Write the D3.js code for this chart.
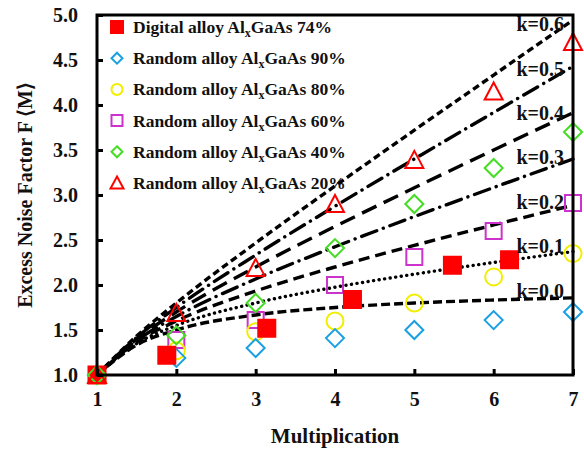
<!DOCTYPE html>
<html>
<head>
<meta charset="utf-8">
<script src="https://cdn.jsdelivr.net/npm/d3@7"></script>
<style>
body { margin:0; background:#fff; }
</style>
</head>
<body>
<svg width="584" height="452"></svg>
<script>
// data
const xTicks = [1, 2, 3, 4, 5, 6, 7];
const yTicks = [1.0, 1.5, 2.0, 2.5, 3.0, 3.5, 4.0, 4.5, 5.0];

// theory curves F(M), sampled at these M values
const curveM = [1, 1.5, 2, 3, 4, 5, 6, 7];
const kLabels = ['k=0.0', 'k=0.1', 'k=0.2', 'k=0.3', 'k=0.4', 'k=0.5', 'k=0.6'];
const k00 = [1, 1.333, 1.5, 1.667, 1.75, 1.8, 1.833, 1.857];
const k01 = [1, 1.35, 1.55, 1.8, 1.975, 2.12, 2.25, 2.371];
const k02 = [1, 1.367, 1.6, 1.933, 2.2, 2.44, 2.667, 2.886];
const k03 = [1, 1.383, 1.65, 2.067, 2.425, 2.76, 3.083, 3.4];
const k04 = [1, 1.4, 1.7, 2.2, 2.65, 3.08, 3.5, 3.914];
const k05 = [1, 1.417, 1.75, 2.333, 2.875, 3.4, 3.917, 4.429];
const k06 = [1, 1.433, 1.8, 2.467, 3.1, 3.72, 4.333, 4.943];

// measured points
const digitalM = [1, 1.88, 3.14, 4.22, 5.48, 6.2];
const digital74 = [1.0, 1.22, 1.52, 1.84, 2.22, 2.28];
const randomM = [1, 2, 3, 4, 5, 6, 7];
const random90 = [1.0, 1.19, 1.3, 1.41, 1.5, 1.61, 1.7];
const random80 = [1.0, 1.27, 1.48, 1.6, 1.8, 2.09, 2.35];
const random60 = [1.0, 1.39, 1.61, 2.0, 2.31, 2.6, 2.91];
const random40 = [1.0, 1.44, 1.8, 2.41, 2.9, 3.3, 3.7];
const random20 = [1.0, 1.69, 2.19, 2.9, 3.39, 4.15, 4.7];

const legendNames = ['Digital alloy', 'Random alloy', 'Random alloy', 'Random alloy', 'Random alloy', 'Random alloy'];
const legendPct = ['74%', '90%', '80%', '60%', '40%', '20%'];

const FONT = '"Liberation Serif", "Times New Roman", Times, serif';

const containerWidth = 584;
const containerHeight = 452;
const margin = {top: 15, right: 11, bottom: 77, left: 97};
const width = containerWidth - margin.left - margin.right;
const height = containerHeight - margin.top - margin.bottom;

const svg = d3.select('svg');
const chart = svg.append('g')
    .attr('transform', 'translate(' + margin.left + ',' + margin.top + ')');

const xScale = d3.scaleLinear().domain([1, 7]).range([0, width]);
const yScale = d3.scaleLinear().domain([1, 5]).range([height, 0]);

//curves
const curves = [
    {vals: k00, dash: '9,4'},
    {vals: k01, dash: '0.1,5.5'},
    {vals: k02, dash: '11,6'},
    {vals: k03, dash: '16,7,0.1,7'},
    {vals: k04, dash: '16,8'},
    {vals: k05, dash: '16,7,0.1,7'},
    {vals: k06, dash: '7,4'}
];
const line = d3.line()
    .x((d, i) => xScale(curveM[i]))
    .y(d => yScale(d))
    .curve(d3.curveMonotoneX);
chart.selectAll('path.curve')
    .data(curves)
    .join('path')
    .attr('class', 'curve')
    .attr('d', d => line(d.vals))
    .attr('fill', 'none')
    .attr('stroke', '#000')
    .attr('stroke-width', 3.4)
    .attr('stroke-linecap', d => d.dash.indexOf('0.1') >= 0 ? 'round' : 'butt')
    .attr('stroke-dasharray', d => d.dash);

// markers
const series = [
    {m: randomM, v: random60, shape: 'square', color: '#cc33cc', fill: 'none'},
    {m: randomM, v: random80, shape: 'circle', color: '#f2ee00', fill: 'none'},
    {m: randomM, v: random90, shape: 'diamond', color: '#1aa0e2', fill: 'none'},
    {m: digitalM, v: digital74, shape: 'square', color: '#ff0000', fill: '#ff0000'},
    {m: randomM, v: random40, shape: 'diamond', color: '#44dd22', fill: 'none'},
    {m: randomM, v: random20, shape: 'triangle', color: '#ff0000', fill: 'none'}
];
function shapePath(shape, s) {
    const h = s / 2;
    if (shape === 'square') return 'M' + (-h) + ',' + (-h) + 'h' + s + 'v' + s + 'h' + (-s) + 'Z';
    if (shape === 'diamond') return 'M0,' + (-h) + 'L' + h + ',0L0,' + h + 'L' + (-h) + ',0Z';
    if (shape === 'triangle') return 'M0,' + (-h - 1) + 'L' + (h + 1) + ',' + h + 'L' + (-h - 1) + ',' + h + 'Z';
    return 'M' + h + ',0A' + h + ',' + h + ' 0 1,1 ' + (-h) + ',0A' + h + ',' + h + ' 0 1,1 ' + h + ',0Z';
}
series.forEach(s => {
    const size = s.shape === 'diamond' ? 18 : (s.shape === 'circle' ? 17 : 16);
    chart.append('g').selectAll('path')
        .data(s.v)
        .join('path')
        .attr('transform', (d, i) => 'translate(' + xScale(s.m[i]) + ',' + yScale(d) + ')')
        .attr('d', shapePath(s.shape, s.fill === 'none' ? size : 17))
        .attr('fill', s.fill)
        .attr('stroke', s.color)
        .attr('stroke-width', 2);
});

// k labels
chart.selectAll('text.klab')
    .data(kLabels)
    .join('text')
    .attr('class', 'klab')
    .attr('x', width - 9)
    .attr('y', (d, i) => yScale(1.86 + i * 0.493))
    .attr('text-anchor', 'end')
    .attr('font-family', FONT)
    .attr('font-weight', 'bold')
    .attr('font-size', 20)
    .attr('fill', '#111')
    .text(d => d);

// axes
const xAxis = d3.axisBottom(xScale).tickValues(xTicks).tickSizeInner(-6).tickSizeOuter(0).tickPadding(17)
    .tickFormat(d3.format('d'));
const yAxis = d3.axisLeft(yScale).tickValues(yTicks).tickSizeInner(-6).tickSizeOuter(0).tickPadding(19)
    .tickFormat(d3.format('.1f'));
const xAxisGroup = chart.append('g').attr('transform', 'translate(0,' + height + ')').call(xAxis);
const yAxisGroup = chart.append('g').call(yAxis);
[xAxisGroup, yAxisGroup].forEach(g => {
    g.select('.domain').remove();
    g.attr('font-family', FONT).attr('font-size', 20).attr('font-weight', 'bold');
    g.selectAll('line').attr('stroke', '#000').attr('stroke-width', 3);
    g.selectAll('text').attr('fill', '#111');
});
chart.append('rect')
    .attr('width', width).attr('height', height)
    .attr('fill', 'none').attr('stroke', '#000').attr('stroke-width', 3);

// legend
const legend = chart.append('g').attr('transform', 'translate(20,12)');
const legendShapes = [
    {shape: 'square', color: '#ff0000', fill: '#ff0000'},
    {shape: 'diamond', color: '#1aa0e2', fill: 'none'},
    {shape: 'circle', color: '#f2ee00', fill: 'none'},
    {shape: 'square', color: '#cc33cc', fill: 'none'},
    {shape: 'diamond', color: '#44dd22', fill: 'none'},
    {shape: 'triangle', color: '#ff0000', fill: 'none'}
];
const rows = legend.selectAll('g')
    .data(legendNames)
    .join('g')
    .attr('transform', (d, i) => 'translate(0,' + (i * 31.2) + ')');
rows.append('path')
    .attr('d', (d, i) => shapePath(legendShapes[i].shape, i === 0 ? 12 : 11))
    .attr('fill', (d, i) => legendShapes[i].fill)
    .attr('stroke', (d, i) => legendShapes[i].color)
    .attr('stroke-width', 2);
const lt = rows.append('text')
    .attr('x', 16)
    .attr('y', 6)
    .attr('font-family', FONT)
    .attr('font-weight', 'bold')
    .attr('font-size', 17.5)
    .attr('fill', '#111');
lt.append('tspan').text(d => d + ' Al');
lt.append('tspan').attr('dy', 4).attr('font-size', 12).text('x');
lt.append('tspan').attr('dy', -4).text((d, i) => 'GaAs ' + legendPct[i]);

// axis titles
svg.append('text')
    .attr('x', margin.left + width / 2)
    .attr('y', 443)
    .attr('text-anchor', 'middle')
    .attr('font-family', FONT)
    .attr('font-weight', 'bold')
    .attr('font-size', 21)
    .attr('fill', '#111')
    .text('Multiplication');
svg.append('text')
    .attr('transform', 'translate(32,' + (margin.top + height / 2) + ') rotate(-90)')
    .attr('text-anchor', 'middle')
    .attr('font-family', FONT)
    .attr('font-weight', 'bold')
    .attr('font-size', 20)
    .attr('fill', '#111')
    .text('Excess Noise Factor F\u2009\u27E8M\u27E9');
</script>
</body>
</html>
